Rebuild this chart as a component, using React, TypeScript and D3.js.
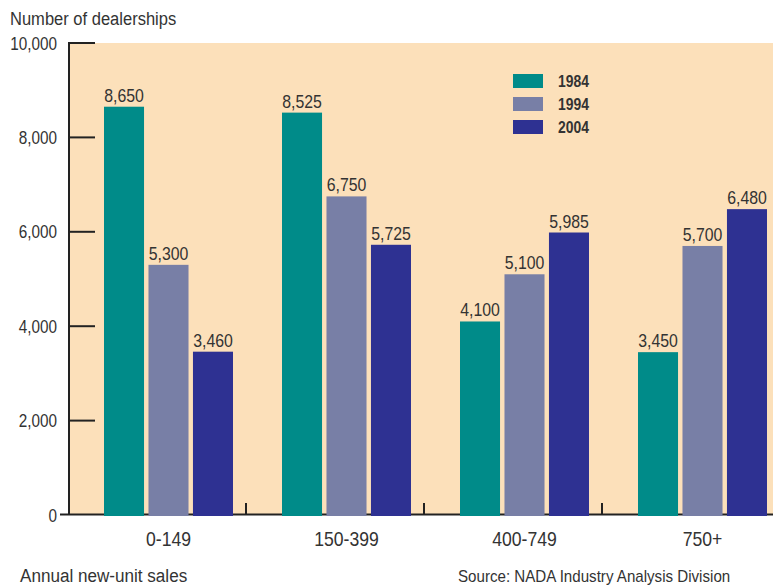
import * as d3 from 'd3';

// Dealership counts by annual new-unit sales bracket, three survey years
const categories = ['0-149', '150-399', '400-749', '750+'];
const years = ['1984', '1994', '2004'];
const values1984 = [8650, 8525, 4100, 3450];
const values1994 = [5300, 6750, 5100, 5700];
const values2004 = [3460, 5725, 5985, 6480];
const yTicks = [0, 2000, 4000, 6000, 8000, 10000];

const seriesValues = [values1984, values1994, values2004];
const colors = ['#008b89', '#787fa6', '#2e3192'];

const W = 773;
const H = 585;
const FONT = '"Liberation Sans", Arial, sans-serif';
const TEXT = '#333';

// condensed text: Liberation Sans squeezed horizontally
function Txt({ x, y, size, sx = 0.88, anchor = 'start', bold = false, children }: any) {
  return (
    <text
      transform={`translate(${x},${y}) scale(${sx},1)`}
      fontSize={size}
      fontWeight={bold ? 'bold' : 'normal'}
      fill={TEXT}
      textAnchor={anchor}
    >
      {children}
    </text>
  );
}

export default function App() {
  const left = 69;
  const y = d3.scaleLinear().domain([0, 10000]).range([515, 43]);
  const x0 = d3.scaleBand<string>().domain(categories).range([left, left + 178 * 4]);
  const x1 = d3.scaleBand<string>().domain(years).range([35, 164]).paddingInner(0.1);
  const fmt = d3.format(',');

  return (
    <svg
      width={W}
      height={H}
      style={{ position: 'absolute', left: 0, top: 0, display: 'block', background: '#fff' }}
      fontFamily={FONT}
    >
      {/* plot background */}
      <rect x={left} y={y(10000)} width={W - left} height={y(0) - y(10000)} fill="#fce0ba" />

      {/* axis label */}
      <Txt x={10} y={25} size={19} sx={0.87}>Number of dealerships</Txt>

      {/* baseline and category dividers */}
      <line x1={60} x2={W} y1={y(0) - 0.5} y2={y(0) - 0.5} stroke="#222" strokeWidth={2} />
      {categories.slice(1).map((c) => (
        <line
          key={c}
          x1={(x0(c) ?? 0) - 1}
          x2={(x0(c) ?? 0) - 1}
          y1={y(0)}
          y2={y(0) - 12}
          stroke="#222"
          strokeWidth={2}
        />
      ))}

      {/* y axis */}
      <line x1={left} x2={left} y1={y(10000) - 1} y2={y(0)} stroke="#222" strokeWidth={2} />
      {yTicks.map((t) => (
        <g key={t}>
          {t > 0 && (
            <line x1={left} x2={left + 26} y1={y(t)} y2={y(t)} stroke="#222" strokeWidth={2} />
          )}
          <Txt x={57} y={y(t) + 6.5} size={18} sx={0.85} anchor="end">
            {fmt(t)}
          </Txt>
        </g>
      ))}

      {/* bars */}
      {categories.map((c, i) => (
        <g key={c} transform={`translate(${x0(c)},0)`}>
          {years.map((yr, j) => {
            const v = seriesValues[j][i];
            const bx = x1(yr) ?? 0;
            return (
              <g key={yr}>
                <rect x={bx} y={y(v)} width={x1.bandwidth()} height={y(0) - y(v) + 1} fill={colors[j]} />
                <Txt x={bx + x1.bandwidth() / 2} y={y(v) - 5} size={18} sx={0.88} anchor="middle">
                  {fmt(v)}
                </Txt>
              </g>
            );
          })}
          <Txt x={(x1(years[1]) ?? 0) + x1.bandwidth() / 2} y={546} size={20} sx={0.88} anchor="middle">
            {c}
          </Txt>
        </g>
      ))}

      {/* legend */}
      {years.map((yr, j) => (
        <g key={yr} transform={`translate(513,${74 + j * 23})`}>
          <rect width={30} height={14} fill={colors[j]} />
          <Txt x={45} y={13} size={17} sx={0.82} bold>
            {yr}
          </Txt>
        </g>
      ))}

      {/* footer */}
      <Txt x={20} y={582} size={19} sx={0.9}>Annual new-unit sales</Txt>
      <Txt x={458} y={582} size={17} sx={0.89}>Source: NADA Industry Analysis Division</Txt>
    </svg>
  );
}
